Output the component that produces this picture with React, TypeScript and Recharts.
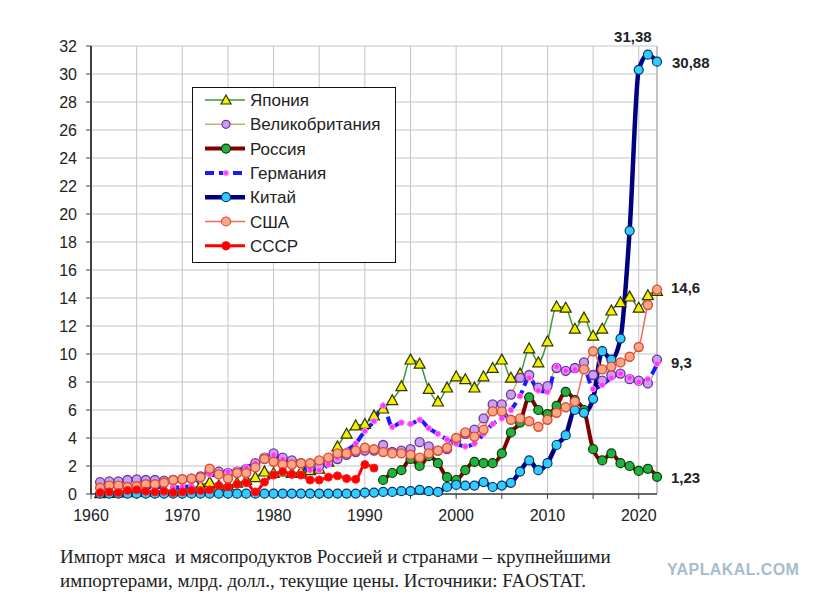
import React from "react";
import { LineChart, Line, XAxis, YAxis, CartesianGrid, ReferenceLine, Legend } from "recharts";

const years = Array.from({ length: 62 }, (_, i) => 1961 + i);

const japan = [0.05,0.07,0.1,0.12,0.15,0.18,0.2,0.25,0.3,0.35,0.45,0.6,0.85,0.6,0.6,0.8,1.0,1.2,1.6,1.5,1.6,1.5,1.6,1.7,1.8,2.3,3.4,4.3,4.9,5.0,5.6,6.1,6.7,7.7,9.6,9.3,7.5,6.6,7.6,8.4,8.2,7.6,8.4,9.0,9.6,8.3,8.6,10.4,9.4,10.9,13.4,13.3,11.8,12.6,11.3,11.8,13.1,13.7,14.1,13.3,14.2,14.5];
const uk = [0.85,0.9,0.9,1.0,1.05,1.0,1.0,0.95,1.0,1.05,1.1,1.25,1.6,1.6,1.5,1.6,1.8,2.2,2.6,2.9,2.6,2.4,2.2,2.0,2.0,2.3,2.5,2.8,3.0,3.1,3.1,3.5,3.0,3.1,3.2,3.7,3.4,3.1,3.2,3.8,4.3,4.6,5.4,6.4,6.4,7.1,8.3,8.5,7.6,7.7,9.0,8.8,9.0,9.4,8.5,8.1,8.5,8.6,8.2,8.1,7.9,9.6];
const russia = [null,null,null,null,null,null,null,null,null,null,null,null,null,null,null,null,null,null,null,null,null,null,null,null,null,null,null,null,null,null,null,1.0,1.5,1.7,2.5,2.0,2.7,2.2,1.2,1.0,1.7,2.3,2.2,2.2,2.9,4.4,5.1,6.9,6.0,5.7,6.3,7.3,6.7,6.0,3.2,2.4,2.9,2.2,2.0,1.65,1.8,1.23];
const germany = [0.4,0.45,0.5,0.5,0.55,0.5,0.5,0.5,0.45,0.5,0.55,1.0,1.4,1.3,1.6,1.7,1.9,2.2,2.7,2.8,2.5,2.3,2.0,1.7,1.7,2.1,2.6,3.1,3.6,4.5,5.2,6.3,4.8,5.1,5.0,5.3,4.7,4.3,3.9,3.6,3.4,3.6,4.3,5.0,5.4,6.0,7.0,8.3,7.4,7.3,9.1,8.8,8.9,9.0,7.5,7.8,8.3,8.6,8.3,8.0,8.2,9.3];
const china = [0.02,0.02,0.02,0.02,0.02,0.02,0.02,0.02,0.02,0.02,0.02,0.02,0.02,0.02,0.02,0.02,0.02,0.02,0.02,0.02,0.03,0.03,0.03,0.03,0.03,0.03,0.03,0.03,0.03,0.1,0.1,0.15,0.15,0.2,0.2,0.3,0.2,0.15,0.5,0.65,0.6,0.6,0.85,0.5,0.6,0.8,1.6,2.4,1.7,2.2,3.5,4.2,6.0,5.8,6.8,10.2,9.6,11.1,18.8,30.3,31.38,30.88];
const usa = [0.45,0.6,0.6,0.5,0.55,0.7,0.7,0.8,1.0,1.05,1.1,1.2,1.8,1.4,1.1,1.5,1.5,1.9,2.5,2.3,2.1,2.1,2.2,2.2,2.4,2.6,2.9,2.9,3.1,3.3,3.2,3.0,2.9,2.9,2.8,2.6,2.9,3.1,3.3,4.0,4.4,4.1,4.6,5.9,5.9,5.3,5.4,5.2,4.8,5.3,5.8,6.2,6.6,8.9,10.2,8.9,9.1,9.4,9.8,10.5,13.5,14.6];
const ussr = [0.1,0.15,0.1,0.25,0.3,0.2,0.15,0.2,0.1,0.15,0.25,0.25,0.3,0.6,0.5,0.7,0.8,0.15,0.85,1.35,1.6,1.4,1.35,1.0,1.0,1.2,1.3,1.1,1.05,2.1,1.85,null,null,null,null,null,null,null,null,null,null,null,null,null,null,null,null,null,null,null,null,null,null,null,null,null,null,null,null,null,null,null];

const xTicks = [1960, 1965, 1970, 1975, 1980, 1985, 1990, 1995, 2000, 2005, 2010, 2015, 2020];
const yTicks = [0, 2, 4, 6, 8, 10, 12, 14, 16, 18, 20, 22, 24, 26, 28, 30, 32];

const seriesNames = ["Япония", "Великобритания", "Россия", "Германия", "Китай", "США", "СССР"];

const data = years.map((y, i) => ({
  year: y,
  japan: japan[i],
  uk: uk[i],
  russia: russia[i],
  germany: germany[i],
  china: china[i],
  usa: usa[i],
  ussr: ussr[i],
}));

const FONT = "'Liberation Sans', Arial, sans-serif";
const fmt = (v: number) => String(v).replace(".", ",");

const circleDot = (fill: string, stroke: string, r: number, sw: number) => (p: any) => {
  if (p.cx == null || p.cy == null || p.value == null) return <g key={p.key} />;
  return <circle key={p.key} cx={p.cx} cy={p.cy} r={r} fill={fill} stroke={stroke} strokeWidth={sw} />;
};

const triDot = (p: any) => {
  if (p.cx == null || p.cy == null || p.value == null) return <g key={p.key} />;
  const s = 5.5;
  const pts = `${p.cx},${p.cy - s} ${p.cx - s},${p.cy + s * 0.8} ${p.cx + s},${p.cy + s * 0.8}`;
  return <polygon key={p.key} points={pts} fill="#f0f000" stroke="#333300" strokeWidth={1.2} />;
};

const labelAt = (idx: number, dx: number, dy: number, anchor: string) => (p: any) => {
  if (p.index !== idx || p.x == null || p.y == null) return <g key={`l${p.index}`} />;
  return (
    <text key={`l${p.index}`} x={p.x + dx} y={p.y + dy} textAnchor={anchor} fontFamily={FONT} fontWeight="bold" fontSize={15} fill="#222">
      {fmt(p.value)}
    </text>
  );
};

const chinaLabel = (p: any) => {
  if (p.x == null || p.y == null) return <g key={`c${p.index}`} />;
  if (p.index === 60)
    return (
      <text key="c60" x={p.x - 15} y={p.y - 13} textAnchor="middle" fontFamily={FONT} fontWeight="bold" fontSize={15} fill="#222">
        {fmt(p.value)}
      </text>
    );
  if (p.index === 61)
    return (
      <text key="c61" x={p.x + 15} y={p.y + 6} textAnchor="start" fontFamily={FONT} fontWeight="bold" fontSize={15} fill="#222">
        {fmt(p.value)}
      </text>
    );
  return <g key={`c${p.index}`} />;
};

const legendRows = [
  { line: "#3a9a3a", w: 1.5, dash: undefined, marker: "tri" },
  { line: "#b8b870", w: 1.5, dash: undefined, marker: { fill: "#c8a0f0", stroke: "#7030a0", r: 4 } },
  { line: "#800000", w: 4, dash: undefined, marker: { fill: "#22b040", stroke: "#004000", r: 4.5 } },
  { line: "#1a1aff", w: 4, dash: "9 5", marker: { fill: "#ff33ff", stroke: "#ff99ff", r: 2.5 } },
  { line: "#000080", w: 4.5, dash: undefined, marker: { fill: "#33ccff", stroke: "#003366", r: 4.5 } },
  { line: "#f06a5a", w: 1.5, dash: undefined, marker: { fill: "#f8a888", stroke: "#e04a30", r: 4.5 } },
  { line: "#ff0000", w: 3, dash: undefined, marker: { fill: "#ff0000", stroke: "#ff0000", r: 4 } },
];

const LegendBox = () => (
  <svg width={204} height={176} style={{ display: "block" }}>
    <rect x={0.5} y={0.5} width={203} height={175} fill="#fff" stroke="#111" strokeWidth={1} />
    {legendRows.map((r, i) => {
      const cy = 13 + i * 24.3;
      const m: any = r.marker;
      return (
        <g key={i}>
          <line x1={13} x2={53} y1={cy} y2={cy} stroke={r.line} strokeWidth={r.w} strokeDasharray={r.dash} />
          {m === "tri" ? (
            <polygon points={`34,${cy - 5} 29,${cy + 4} 39,${cy + 4}`} fill="#f0f000" stroke="#333300" strokeWidth={1.2} />
          ) : (
            <circle cx={34} cy={cy} r={m.r} fill={m.fill} stroke={m.stroke} strokeWidth={1.2} />
          )}
          <text x={58} y={cy + 6} fontFamily={FONT} fontSize={17} fill="#222">
            {seriesNames[i]}
          </text>
        </g>
      );
    })}
  </svg>
);

export default function App() {
  return (
    <div style={{ position: "absolute", left: 0, top: 0, width: 829, height: 601, background: "#fff" }}>
      <LineChart width={829} height={530} data={data} margin={{ top: 46, right: 172, bottom: 6, left: 41 }}>
        <CartesianGrid stroke="#c4c4c4" strokeWidth={1} />
        <XAxis
          dataKey="year"
          type="number"
          domain={[1960, 2022]}
          ticks={xTicks}
          interval={0}
          tickFormatter={(v: number) => (v % 10 === 0 ? String(v) : "")}
          height={30}
          tickSize={5}
          tickMargin={11}
          axisLine={{ stroke: "#404040", strokeWidth: 1.5 }}
          tickLine={{ stroke: "#404040" }}
          tick={{ fontFamily: FONT, fontSize: 16, fill: "#222" }}
        />
        <YAxis
          domain={[0, 32]}
          ticks={yTicks}
          interval={0}
          width={50}
          tickSize={5}
          tickMargin={9}
          axisLine={{ stroke: "#404040", strokeWidth: 2 }}
          tickLine={{ stroke: "#404040" }}
          tick={{ fontFamily: FONT, fontSize: 16, fill: "#222" }}
        />
        <ReferenceLine x={2022} stroke="#a8a8a8" strokeWidth={1} />
        <Legend layout="vertical" align="center" verticalAlign="middle" content={() => <LegendBox />} wrapperStyle={{ position: "absolute", left: 192, top: 87, width: 204, height: 176 }} />
        <Line dataKey="japan" name={seriesNames[0]} type="monotone" stroke="#3a9a3a" strokeWidth={1.5} dot={triDot} activeDot={false} isAnimationActive={false} />
        <Line dataKey="uk" name={seriesNames[1]} type="monotone" stroke="#b8b870" strokeWidth={1.5} dot={circleDot("#c8a0f0", "#7030a0", 4.5, 1.3)} activeDot={false} isAnimationActive={false} />
        <Line dataKey="russia" name={seriesNames[2]} type="monotone" stroke="#800000" strokeWidth={4} dot={circleDot("#22b040", "#004000", 4.5, 1.2)} activeDot={false} isAnimationActive={false} label={labelAt(61, 14, 6, "start")} />
        <Line dataKey="germany" name={seriesNames[3]} type="monotone" stroke="#1a1aff" strokeWidth={4} strokeDasharray="9 5" dot={circleDot("#ff33ff", "#ff88ff", 2.8, 1)} activeDot={false} isAnimationActive={false} label={labelAt(61, 14, 4, "start")} />
        <Line dataKey="china" name={seriesNames[4]} type="monotone" stroke="#000080" strokeWidth={4.5} dot={circleDot("#33ccff", "#003366", 4.5, 1.2)} activeDot={false} isAnimationActive={false} label={chinaLabel} />
        <Line dataKey="usa" name={seriesNames[5]} type="monotone" stroke="#f06a5a" strokeWidth={1.5} dot={circleDot("#f8a888", "#e04a30", 4.5, 1.4)} activeDot={false} isAnimationActive={false} label={labelAt(61, 14, 3, "start")} />
        <Line dataKey="ussr" name={seriesNames[6]} type="monotone" stroke="#ff0000" strokeWidth={3} dot={circleDot("#ff0000", "#ff2020", 4, 1)} activeDot={false} isAnimationActive={false} />
      </LineChart>
      <div style={{ position: "absolute", left: 60, top: 545, fontFamily: "'Liberation Serif', 'Times New Roman', serif", fontSize: 19, lineHeight: "24px", color: "#222", whiteSpace: "nowrap" }}>
        <div>Импорт мяса&nbsp; и мясопродуктов Россией и странами – крупнейшими</div>
        <div>импортерами, млрд. долл., текущие цены. Источники: FAOSTAT.</div>
      </div>
      <div style={{ position: "absolute", left: 667, top: 561, fontFamily: FONT, fontWeight: "bold", fontSize: 16, color: "#a8bccc", letterSpacing: 0.4 }}>
        YAPLAKAL.COM
      </div>
    </div>
  );
}
